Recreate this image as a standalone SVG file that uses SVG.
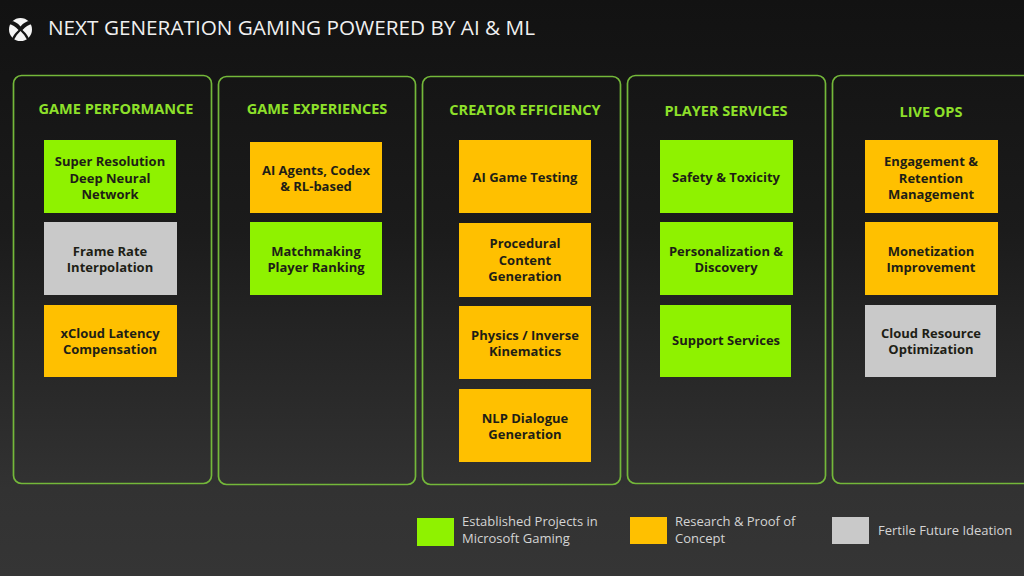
<svg xmlns="http://www.w3.org/2000/svg" width="1024" height="576" viewBox="0 0 1024 576">
<style>
text{font-family:"Open Sans","Noto Sans","Liberation Sans",sans-serif}
.p{fill:none;stroke:#74b83a;stroke-width:1.700}
.h{fill:#8ee02a;font-size:14.500px;font-weight:700;text-anchor:middle}
.g{fill:#8ff200}.o{fill:#ffc000}.s{fill:#c9c9c9}
.t{fill:#1e1e16;font-size:13px;font-weight:700;text-anchor:middle}
.l{fill:#d4d4d4;font-size:13px}
</style>
<defs>
<linearGradient id="bg" x1="0" y1="0" x2="0" y2="1"><stop offset="0" stop-color="#121212"/><stop offset=".4" stop-color="#1b1b1b"/><stop offset=".85" stop-color="#323232"/><stop offset="1" stop-color="#353535"/></linearGradient>
</defs>
<rect width="1024" height="576" fill="url(#bg)"/>
<g id="logo"><circle cx="20.500" cy="29.500" r="11.500" fill="#f4f4f4"/><path d="M11 21 Q16 21 20.500 26.500 Q25 21 30 21 L32 24 Q27 25 22.500 30 Q28 35 29.500 40 L27.500 40.500 Q25 35 20.500 31 Q16 35 13.500 40.500 L11.500 40 Q13 35 18.500 30 Q14 25 9 24 Z" fill="#141414"/></g>
<text id="title" x="48" y="35" fill="#f0f0f0" font-size="19.500" font-weight="500" textLength="487" lengthAdjust="spacingAndGlyphs">NEXT GENERATION GAMING POWERED BY AI &amp; ML</text>
<g id="panel-performance"><rect class="p" x="13.500" y="75.500" width="198" height="408" rx="8"/><text class="h" x="116" y="114">GAME PERFORMANCE</text>
<g id="n1"><rect class="g" x="44" y="140" width="132" height="73"/><text class="t" x="110" y="166">Super Resolution</text><text class="t" x="110" y="183">Deep Neural</text><text class="t" x="110" y="199">Network</text></g>
<g id="n2"><rect class="s" x="44" y="222" width="133" height="73"/><text class="t" x="110" y="256">Frame Rate</text><text class="t" x="110" y="272">Interpolation</text></g>
<g id="n3"><rect class="o" x="44" y="305" width="133" height="72"/><text class="t" x="110" y="338">xCloud Latency</text><text class="t" x="110" y="354">Compensation</text></g></g>
<g id="panel-experiences"><rect class="p" x="218.500" y="76.500" width="197" height="408" rx="8"/><text class="h" x="317" y="114">GAME EXPERIENCES</text>
<g id="n4"><rect class="o" x="250" y="142" width="132" height="71"/><text class="t" x="316" y="175">AI Agents, Codex</text><text class="t" x="316" y="191">&amp; RL-based</text></g>
<g id="n5"><rect class="g" x="250" y="222" width="132" height="73"/><text class="t" x="316" y="256">Matchmaking</text><text class="t" x="316" y="272">Player Ranking</text></g></g>
<g id="panel-creator"><rect class="p" x="422.500" y="76.500" width="198" height="408" rx="8"/><text class="h" x="525" y="115">CREATOR EFFICIENCY</text>
<g id="n6"><rect class="o" x="459" y="140" width="132" height="73"/><text class="t" x="525" y="182">AI Game Testing</text></g>
<g id="n7"><rect class="o" x="459" y="223" width="132" height="74"/><text class="t" x="525" y="248">Procedural</text><text class="t" x="525" y="265">Content</text><text class="t" x="525" y="281">Generation</text></g>
<g id="n8"><rect class="o" x="459" y="306" width="132" height="73"/><text class="t" x="525" y="340">Physics / Inverse</text><text class="t" x="525" y="356">Kinematics</text></g>
<g id="n9"><rect class="o" x="459" y="389" width="132" height="73"/><text class="t" x="525" y="423">NLP Dialogue</text><text class="t" x="525" y="439">Generation</text></g></g>
<g id="panel-player"><rect class="p" x="627.500" y="75.500" width="198" height="408" rx="8"/><text class="h" x="726" y="116">PLAYER SERVICES</text>
<g id="n10"><rect class="g" x="660" y="140" width="133" height="73"/><text class="t" x="726" y="182">Safety &amp; Toxicity</text></g>
<g id="n11"><rect class="g" x="660" y="222" width="133" height="73"/><text class="t" x="726" y="256">Personalization &amp;</text><text class="t" x="726" y="272">Discovery</text></g>
<g id="n12"><rect class="g" x="660" y="305" width="131" height="72"/><text class="t" x="726" y="345">Support Services</text></g></g>
<g id="panel-liveops"><rect class="p" x="832.500" y="75.500" width="210" height="408" rx="8"/><text class="h" x="931" y="117">LIVE OPS</text>
<g id="n13"><rect class="o" x="865" y="140" width="133" height="73"/><text class="t" x="931" y="166">Engagement &amp;</text><text class="t" x="931" y="183">Retention</text><text class="t" x="931" y="199">Management</text></g>
<g id="n14"><rect class="o" x="865" y="222" width="133" height="73"/><text class="t" x="931" y="256">Monetization</text><text class="t" x="931" y="272">Improvement</text></g>
<g id="n15"><rect class="s" x="865" y="305" width="131" height="72"/><text class="t" x="931" y="338">Cloud Resource</text><text class="t" x="931" y="354">Optimization</text></g></g>
<g id="legend">
<rect class="g" x="417" y="518" width="37" height="28"/><text class="l" x="462" y="526">Established Projects in</text><text class="l" x="462" y="543">Microsoft Gaming</text>
<rect class="o" x="630" y="517" width="37" height="27"/><text class="l" x="675" y="526">Research &amp; Proof of</text><text class="l" x="675" y="543">Concept</text>
<rect class="s" x="832" y="517" width="37" height="27"/><text class="l" x="878" y="535">Fertile Future Ideation</text>
</g>
</svg>
